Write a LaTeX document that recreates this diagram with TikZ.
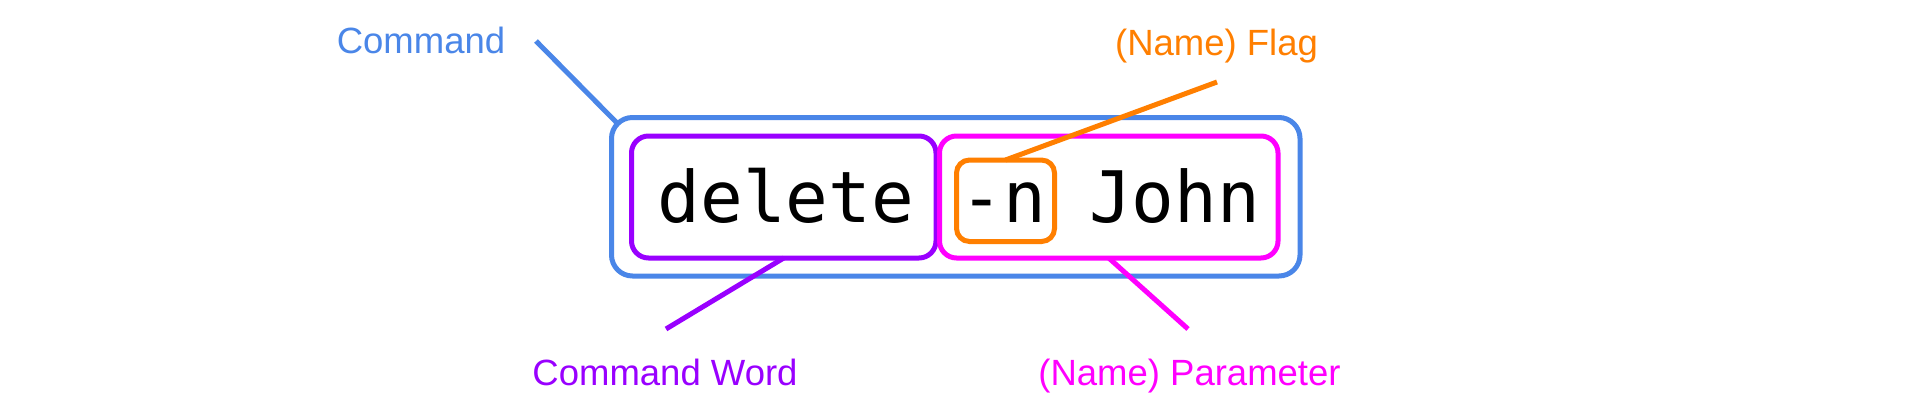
\documentclass[tikz,border=0pt]{standalone}
\usepackage{fontspec}
\setmainfont{Liberation Sans}
\newfontfamily\codefont{DejaVu Sans Mono}
\usetikzlibrary{calc}
\definecolor{cblue}{HTML}{4A86E8}
\definecolor{cpurple}{HTML}{9900FF}
\definecolor{cmagenta}{HTML}{FF00FF}
\definecolor{corange}{HTML}{FF7F00}
\begin{document}
\begin{tikzpicture}[x=1pt,y=-1pt,
  box/.style={draw,line width=5pt,rectangle,inner sep=0pt,outer sep=0pt},
  lbl/.style={font=\fontsize{36.5}{40}\selectfont,inner sep=0pt,anchor=base},
  code/.style={font=\codefont\fontsize{71}{80}\selectfont,inner sep=0pt,anchor=base,text=black},
  conn/.style={line width=5pt}]
\useasboundingbox[fill=white] (0,0) rectangle (1917,415);
% boxes
\node[box, cblue, minimum width=688.5pt, minimum height=158.5pt, rounded corners=21pt] (cmdbox) at (955.75,196.75) {};
\node[box, cpurple, minimum width=304.5pt, minimum height=122pt, rounded corners=17pt] (wordbox) at (783.75,197) {};
\node[box, cmagenta, minimum width=338.5pt, minimum height=122pt, rounded corners=17pt] (parbox) at (1108.75,197) {};
\node[box, corange, minimum width=98pt, minimum height=81.5pt, rounded corners=13pt] (flagbox) at (1005.5,200.75) {};
% code text
\node[code] (tdelete) at (786,222) {delete};
\node[code] (tflag) at (1003,222) {-n};
\node[code] (tjohn) at (1174.5,222) {John};
% labels
\node[lbl, text=cblue] (lcmd) at (421,53) {Command};
\node[lbl, text=cpurple] (lword) at (665,385) {Command Word};
\node[lbl, text=corange] (lflag) at (1216.5,55) {(Name) Flag};
\node[lbl, text=cmagenta] (lpar) at (1189.5,385) {(Name) Parameter};
% free ends of connectors
\coordinate (ecmd) at (536,41);
\coordinate (eword) at (666,329);
\coordinate (epar) at (1188,329);
\coordinate (eflag) at (1217,82);
% connectors
\draw[conn, cblue] (ecmd) -- ($(cmdbox.north west)+(6,6)$);
\draw[conn, cpurple] (eword) -- (wordbox.south);
\draw[conn, cmagenta] (epar) -- (parbox.south);
\draw[conn, corange] (flagbox.north) -- (eflag);
\end{tikzpicture}
\end{document}
